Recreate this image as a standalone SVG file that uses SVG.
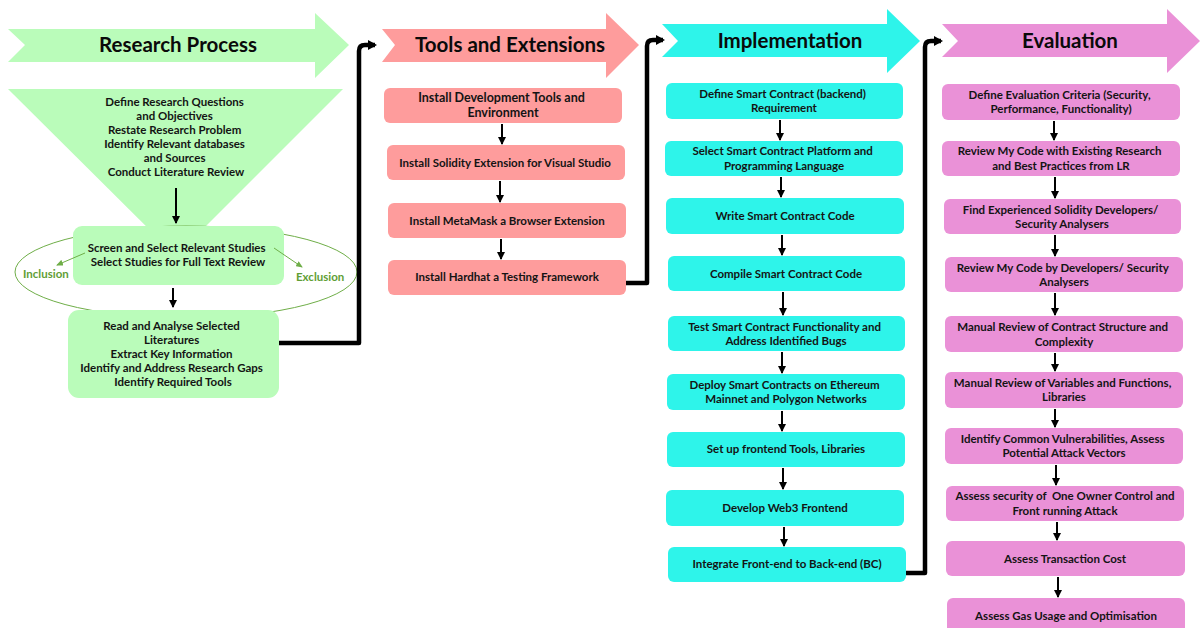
<svg xmlns="http://www.w3.org/2000/svg" width="1201" height="628" viewBox="0 0 1201 628">
  <style>
    .t { font-family: Lato, "Liberation Sans", sans-serif; font-weight: bold; font-size: 11.5px; fill: #141414; text-anchor: middle; }
    .h { font-family: Lato, "Liberation Sans", sans-serif; font-weight: bold; font-size: 20.5px; fill: #0a0a0a; text-anchor: middle; }
    .lbl { font-family: Lato, "Liberation Sans", sans-serif; font-weight: bold; font-size: 11.5px; fill: #5f9e35; }
    .g { fill: #bafcba; }
    .r { fill: #fe9c9c; }
    .c { fill: #2ef4ea; }
    .p { fill: #ea91d7; }
    .step { stroke: #000; stroke-width: 2; fill: none; marker-end: url(#ah); }
    .link { stroke: #000; stroke-width: 4.5; fill: none; stroke-linejoin: round; marker-end: url(#ahBig); }
    .sel { stroke: #6fae48; stroke-width: 1; fill: none; marker-end: url(#ahGreen); }
  </style>
  <defs>
    <marker id="ah" markerUnits="userSpaceOnUse" markerWidth="8" markerHeight="8" refX="7" refY="4" orient="auto">
      <path d="M0,0 L8,4 L0,8 z" fill="#000"/>
    </marker>
    <marker id="ahBig" markerUnits="userSpaceOnUse" markerWidth="9" markerHeight="10" refX="7" refY="5" orient="auto">
      <path d="M0,0 L9,5 L0,10 z" fill="#000"/>
    </marker>
    <marker id="ahGreen" markerUnits="userSpaceOnUse" markerWidth="7" markerHeight="6" refX="6" refY="3" orient="auto">
      <path d="M0,0 L7,3 L0,6 z" fill="#6fae48"/>
    </marker>
  </defs>

  <!-- Research Process column -->
  <g id="banner-research">
    <polygon class="g" points="8,29 315,29 315,13 349,45 315,78 315,62 8,62 25,45"/>
    <text class="h" x="178" y="52">Research Process</text>
  </g>
  <g id="node-define">
    <polygon class="g" points="8,89 343,89 176,256"/>
    <text class="t">
      <tspan x="176" y="106">Define Research Questions</tspan>
      <tspan x="176" y="120">and Objectives</tspan>
      <tspan x="176" y="134">Restate Research Problem</tspan>
      <tspan x="176" y="148">Identify Relevant databases</tspan>
      <tspan x="176" y="162">and Sources</tspan>
      <tspan x="176" y="176">Conduct Literature Review</tspan>
    </text>
  </g>
  <g id="selection-cycle">
    <ellipse cx="186" cy="272" rx="171" ry="46" fill="none" stroke="#6fae48" stroke-width="1"/>
  </g>
  <g id="node-screen">
    <rect class="g" x="73" y="226" width="211" height="59" rx="9"/>
    <text class="t">
      <tspan x="178" y="252">Screen and Select Relevant Studies</tspan>
      <tspan x="178" y="266">Select Studies for Full Text Review</tspan>
    </text>
  </g>
  <g id="label-inclusion">
    <text class="lbl" x="23" y="278">Inclusion</text>
  </g>
  <g id="label-exclusion">
    <text class="lbl" x="296" y="281">Exclusion</text>
  </g>
  <g id="node-read">
    <rect class="g" x="68" y="310" width="211" height="88" rx="11"/>
    <text class="t">
      <tspan x="173" y="330">Read and Analyse Selected</tspan>
      <tspan x="173" y="344">Literatures</tspan>
      <tspan x="173" y="358">Extract Key Information</tspan>
      <tspan x="173" y="372">Identify and Address Research Gaps</tspan>
      <tspan x="173" y="386">Identify Required Tools</tspan>
    </text>
  </g>

  <!-- Tools and Extensions column -->
  <g id="banner-tools">
    <polygon class="r" points="382,29 606,29 606,13 639,45 606,78 606,62 382,62 395,45"/>
    <text class="h" x="510" y="52">Tools and Extensions</text>
  </g>
  <g id="node-devtools">
    <rect class="r" x="384" y="88" width="238" height="35" rx="6"/>
    <text class="t" style="font-size:12.5px">
      <tspan x="503" y="102">Install Development Tools and</tspan>
      <tspan x="503" y="117">Environment</tspan>
    </text>
  </g>
  <g id="node-solidity">
    <rect class="r" x="387" y="145" width="238" height="35" rx="6"/>
    <text class="t" x="505" y="167">Install Solidity Extension for Visual Studio</text>
  </g>
  <g id="node-metamask">
    <rect class="r" x="388" y="203" width="238" height="35" rx="6"/>
    <text class="t" x="507" y="225">Install MetaMask a Browser Extension</text>
  </g>
  <g id="node-hardhat">
    <rect class="r" x="388" y="260" width="238" height="35" rx="6"/>
    <text class="t" x="507" y="281">Install Hardhat a Testing Framework</text>
  </g>

  <!-- Implementation column -->
  <g id="banner-implementation">
    <polygon class="c" points="662,24 887,24 887,9 920,41 887,73 887,57 662,57 678,41"/>
    <text class="h" x="790" y="48">Implementation</text>
  </g>
  <g id="node-requirement">
    <rect class="c" x="666" y="83" width="237" height="36" rx="6"/>
    <text class="t">
      <tspan x="784" y="98">Define Smart Contract (backend)</tspan>
      <tspan x="784" y="112">Requirement</tspan>
    </text>
  </g>
  <g id="node-platform">
    <rect class="c" x="665" y="141" width="238" height="35" rx="6"/>
    <text class="t">
      <tspan x="784" y="155">Select Smart Contract Platform and</tspan>
      <tspan x="784" y="170">Programming Language</tspan>
    </text>
  </g>
  <g id="node-write">
    <rect class="c" x="666" y="198" width="238" height="36" rx="6"/>
    <text class="t" x="785" y="220">Write Smart Contract Code</text>
  </g>
  <g id="node-compile">
    <rect class="c" x="668" y="256" width="237" height="35" rx="6"/>
    <text class="t" x="786" y="278">Compile Smart Contract Code</text>
  </g>
  <g id="node-test">
    <rect class="c" x="668" y="316" width="237" height="35" rx="6"/>
    <text class="t">
      <tspan x="786" y="331">Test Smart Contract Functionality and</tspan>
      <tspan x="786" y="345">Address Identified Bugs</tspan>
    </text>
  </g>
  <g id="node-deploy">
    <rect class="c" x="667" y="374" width="238" height="36" rx="6"/>
    <text class="t">
      <tspan x="786" y="389">Deploy Smart Contracts on Ethereum</tspan>
      <tspan x="786" y="403">Mainnet and Polygon Networks</tspan>
    </text>
  </g>
  <g id="node-frontend-tools">
    <rect class="c" x="667" y="432" width="238" height="35" rx="6"/>
    <text class="t" x="786" y="453">Set up frontend Tools, Libraries</text>
  </g>
  <g id="node-web3">
    <rect class="c" x="666" y="490" width="238" height="36" rx="6"/>
    <text class="t" x="785" y="512">Develop Web3 Frontend</text>
  </g>
  <g id="node-integrate">
    <rect class="c" x="668" y="547" width="238" height="35" rx="6"/>
    <text class="t" x="787" y="568">Integrate Front-end to Back-end (BC)</text>
  </g>

  <!-- Evaluation column -->
  <g id="banner-evaluation">
    <polygon class="p" points="942,24 1167,24 1167,9 1200,41 1167,73 1167,57 942,57 958,41"/>
    <text class="h" x="1070" y="48">Evaluation</text>
  </g>
  <g id="node-criteria">
    <rect class="p" x="942" y="84" width="238" height="36" rx="6"/>
    <text class="t">
      <tspan x="1061" y="99">Define Evaluation Criteria (Security,</tspan>
      <tspan x="1061" y="113">Performance, Functionality)</tspan>
    </text>
  </g>
  <g id="node-review-lr">
    <rect class="p" x="942" y="141" width="238" height="35" rx="6"/>
    <text class="t">
      <tspan x="1061" y="155">Review My Code with Existing Research</tspan>
      <tspan x="1061" y="170">and Best Practices from LR</tspan>
    </text>
  </g>
  <g id="node-find-devs">
    <rect class="p" x="944" y="199" width="237" height="35" rx="6"/>
    <text class="t">
      <tspan x="1062" y="214">Find Experienced Solidity Developers/</tspan>
      <tspan x="1062" y="228">Security Analysers</tspan>
    </text>
  </g>
  <g id="node-review-devs">
    <rect class="p" x="945" y="257" width="238" height="35" rx="6"/>
    <text class="t">
      <tspan x="1064" y="272">Review My Code by Developers/ Security</tspan>
      <tspan x="1064" y="286">Analysers</tspan>
    </text>
  </g>
  <g id="node-structure">
    <rect class="p" x="945" y="316" width="238" height="36" rx="6"/>
    <text class="t">
      <tspan x="1064" y="331">Manual Review of Contract Structure and</tspan>
      <tspan x="1064" y="346">Complexity</tspan>
    </text>
  </g>
  <g id="node-variables">
    <rect class="p" x="945" y="372" width="238" height="36" rx="6"/>
    <text class="t">
      <tspan x="1064" y="387">Manual Review of Variables and Functions,</tspan>
      <tspan x="1064" y="401">Libraries</tspan>
    </text>
  </g>
  <g id="node-vulnerabilities">
    <rect class="p" x="945" y="428" width="238" height="36" rx="6"/>
    <text class="t">
      <tspan x="1064" y="443">Identify Common Vulnerabilities, Assess</tspan>
      <tspan x="1064" y="457">Potential Attack Vectors</tspan>
    </text>
  </g>
  <g id="node-owner-control">
    <rect class="p" x="946" y="486" width="238" height="35" rx="6"/>
    <text class="t" xml:space="preserve"><tspan x="1065" y="500">Assess security of  One Owner Control and</tspan><tspan x="1065" y="515">Front running Attack</tspan></text>
  </g>
  <g id="node-tx-cost">
    <rect class="p" x="946" y="541" width="239" height="35" rx="6"/>
    <text class="t" x="1065" y="563">Assess Transaction Cost</text>
  </g>
  <g id="node-gas">
    <rect class="p" x="947" y="598" width="238" height="40" rx="6"/>
    <text class="t" x="1066" y="620">Assess Gas Usage and Optimisation</text>
  </g>

  <!-- connectors -->
  <g id="connectors">
    <!-- research process -->
    <line class="step" x1="176" y1="188" x2="176" y2="223"/>
    <line class="step" x1="173" y1="288" x2="173" y2="307"/>
    <line class="sel" x1="85" y1="253" x2="57" y2="265"/>
    <line class="sel" x1="274" y1="248" x2="302" y2="267"/>
    <!-- tools -->
    <line class="step" x1="502" y1="124" x2="502" y2="144"/>
    <line class="step" x1="500" y1="181" x2="500" y2="202"/>
    <line class="step" x1="501" y1="239" x2="501" y2="259"/>
    <!-- implementation -->
    <line class="step" x1="780" y1="120" x2="780" y2="140"/>
    <line class="step" x1="781" y1="177" x2="781" y2="197"/>
    <line class="step" x1="782" y1="235" x2="782" y2="255"/>
    <line class="step" x1="783" y1="292" x2="783" y2="315"/>
    <line class="step" x1="782" y1="352" x2="782" y2="373"/>
    <line class="step" x1="782" y1="411" x2="782" y2="431"/>
    <line class="step" x1="783" y1="468" x2="783" y2="489"/>
    <line class="step" x1="784" y1="527" x2="784" y2="546"/>
    <!-- evaluation -->
    <line class="step" x1="1054" y1="121" x2="1054" y2="140"/>
    <line class="step" x1="1055" y1="177" x2="1055" y2="198"/>
    <line class="step" x1="1055" y1="235" x2="1055" y2="256"/>
    <line class="step" x1="1055" y1="293" x2="1055" y2="315"/>
    <line class="step" x1="1055" y1="353" x2="1055" y2="371"/>
    <line class="step" x1="1055" y1="409" x2="1055" y2="427"/>
    <line class="step" x1="1056" y1="465" x2="1056" y2="485"/>
    <line class="step" x1="1057" y1="522" x2="1057" y2="540"/>
    <line class="step" x1="1058" y1="577" x2="1058" y2="597"/>
    <!-- hand-offs between phases -->
    <path class="link" d="M279,343 H359 V51 Q359,45 365,45 H375"/>
    <path class="link" d="M626,283 H647 V46 Q647,40 653,40 H663"/>
    <path class="link" d="M906,573 H925 V47 Q925,41 931,41 H941"/>
  </g>
</svg>
